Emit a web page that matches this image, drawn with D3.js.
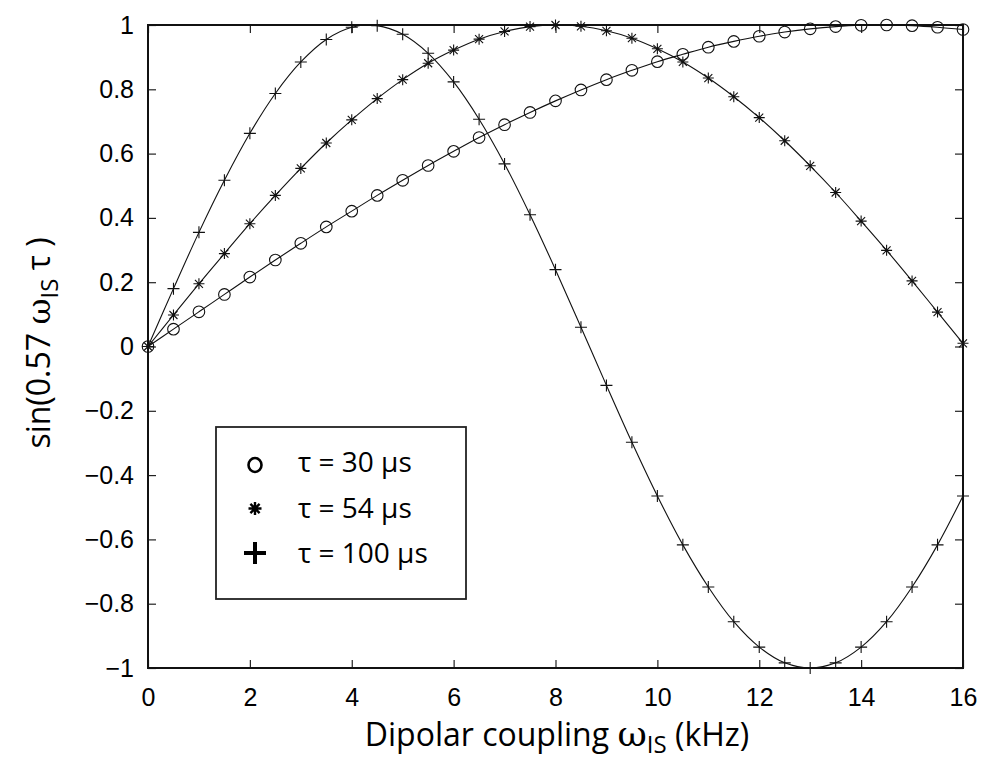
<!DOCTYPE html>
<html>
<head>
<meta charset="utf-8">
<script src="https://cdn.jsdelivr.net/npm/d3@7"></script>
<style>
  body { margin: 0; background: #fff; }
  svg { display: block; font-family: "Open Sans", "DejaVu Sans", sans-serif; }
</style>
</head>
<body>
<div id="chart"></div>
<script>
// coupling values (kHz), one marker every 0.5
const omega = d3.range(0, 16.01, 0.5)

// values
const tau30 = [0, 0.054, 0.108, 0.162, 0.216, 0.269, 0.321, 0.372, 0.421, 0.470,
  0.517, 0.563, 0.607, 0.650, 0.690, 0.728, 0.764, 0.798, 0.830, 0.859, 0.886,
  0.909, 0.931, 0.949, 0.965, 0.978, 0.988, 0.995, 0.999, 1.0, 0.998, 0.993, 0.986]
const tau54 = [0, 0.098, 0.195, 0.289, 0.382, 0.470, 0.554, 0.633, 0.705, 0.771,
  0.830, 0.881, 0.922, 0.956, 0.980, 0.995, 1.0, 0.996, 0.982, 0.959, 0.926,
  0.885, 0.835, 0.777, 0.712, 0.640, 0.562, 0.479, 0.390, 0.299, 0.204, 0.107, 0.010]
const tau100 = [0, 0.180, 0.355, 0.517, 0.663, 0.787, 0.885, 0.955, 0.993, 0.998,
  0.971, 0.912, 0.823, 0.707, 0.568, 0.410, 0.239, 0.060, -0.121, -0.298, -0.465,
  -0.617, -0.748, -0.856, -0.935, -0.984, -1.0, -0.984, -0.935, -0.856, -0.748, -0.617, -0.465]

const xTicks = [0, 2, 4, 6, 8, 10, 12, 14, 16]
const yTicks = [-1, -0.8, -0.6, -0.4, -0.2, 0, 0.2, 0.4, 0.6, 0.8, 1]

const series = [
    {name: "30", values: tau30, marker: "circle"},
    {name: "54", values: tau54, marker: "star"},
    {name: "100", values: tau100, marker: "plus"}
]

const W = 986, H = 764
const margin = {top: 25, right: 23, bottom: 96, left: 148}
const width = W - margin.left - margin.right,
      height = H - margin.top - margin.bottom

const svg = d3.select("#chart").append("svg")
    .attr("width", W)
    .attr("height", H)

const g = svg.append("g")
    .attr("transform", "translate(" + margin.left + "," + margin.top + ")")

const x = d3.scaleLinear().domain([0, 16]).range([0, width])
const y = d3.scaleLinear().domain([-1, 1]).range([height, 0])

// ticks on all four sides, pointing inward
const fmt = d => d < 0 ? "\u2212" + Math.abs(d) : String(d)
const tickLen = 8

g.append("g")
    .attr("transform", "translate(0," + height + ")")
    .call(d3.axisBottom(x).tickValues(xTicks).tickSizeInner(-tickLen).tickSizeOuter(0).tickPadding(20).tickFormat(fmt))
g.append("g")
    .call(d3.axisTop(x).tickValues(xTicks).tickSizeInner(-tickLen).tickSizeOuter(0).tickFormat(""))
g.append("g")
    .call(d3.axisLeft(y).tickValues(yTicks).tickSizeInner(-tickLen).tickSizeOuter(0).tickPadding(14).tickFormat(fmt))
g.append("g")
    .attr("transform", "translate(" + width + ",0)")
    .call(d3.axisRight(y).tickValues(yTicks).tickSizeInner(-tickLen).tickSizeOuter(0).tickFormat(""))

g.selectAll(".domain").remove()
g.selectAll(".tick line").attr("stroke", "#222").attr("stroke-width", 1.2)
g.selectAll(".tick text").attr("fill", "#000").style("font-size", "25px")

// frame
g.append("rect")
    .attr("width", width)
    .attr("height", height)
    .attr("fill", "none")
    .attr("stroke", "#111")
    .attr("stroke-width", 2)

const line = d3.line()
    .x((d, i) => x(omega[i]))
    .y(d => y(d))
    .curve(d3.curveCatmullRom)

const markerPath = {
    plus: "M-6,0H6M0,-6V6",
    star: "M-5.5,0H5.5M0,-5.5V5.5M-4,-4L4,4M-4,4L4,-4"
}

series.forEach(function(s) {
    g.append("path")
        .datum(s.values)
        .attr("fill", "none")
        .attr("stroke", "#111")
        .attr("stroke-width", 1.1)
        .attr("d", line)

    const m = g.append("g").selectAll("g")
        .data(s.values)
        .join("g")
        .attr("transform", (d, i) => "translate(" + x(omega[i]) + "," + y(d) + ")")
        .attr("stroke", "#111")
        .attr("fill", "none")
        .attr("stroke-width", 1.1)

    if (s.marker === "circle") {
        m.append("circle").attr("r", 5.8)
    } else {
        m.append("path").attr("d", markerPath[s.marker])
    }
})

// legend
const lg = g.append("g").attr("transform", "translate(" + (216 - margin.left) + "," + (427 - margin.top) + ")")
lg.append("rect")
    .attr("width", 250)
    .attr("height", 172)
    .attr("fill", "#fff")
    .attr("stroke", "#222")
    .attr("stroke-width", 1.8)

const legendSym = {
    circle: {d: null, w: 2.6},
    star: {d: "M-6.5,0H6.5M0,-6.5V6.5M-4.6,-4.6L4.6,4.6M-4.6,4.6L4.6,-4.6", w: 2.4},
    plus: {d: "M-11,0H11M0,-11V11", w: 4}
}

series.forEach(function(s, i) {
    const yy = 45 + i * 45.5
    const cy = yy - (s.marker === "circle" ? 8 : s.marker === "star" ? 9 : 10)
    const sym = legendSym[s.marker]
    if (s.marker === "circle") {
        lg.append("ellipse")
            .attr("cx", 39).attr("cy", cy + 1)
            .attr("rx", 6.5).attr("ry", 7)
            .attr("fill", "none").attr("stroke", "#000").attr("stroke-width", sym.w)
    } else {
        lg.append("path")
            .attr("transform", "translate(39," + cy + ")")
            .attr("d", sym.d)
            .attr("fill", "none").attr("stroke", "#000").attr("stroke-width", sym.w)
    }
    lg.append("text")
        .attr("x", 82)
        .attr("y", yy)
        .style("font-size", "28px")
        .attr("fill", "#000")
        .text("\u03c4 = " + s.name + " \u03bcs")
})

// axis titles
const xt = svg.append("text")
    .attr("x", 557)
    .attr("y", 746)
    .attr("text-anchor", "middle")
    .style("font-size", "32px")
    .attr("fill", "#000")
xt.append("tspan").text("Dipolar coupling ")
xt.append("tspan").style("font-family", "'DejaVu Serif', serif").style("font-size", "36px").text("\u03c9")
xt.append("tspan").attr("dy", 7).style("font-size", "24px").text("IS")
xt.append("tspan").attr("dy", -7).text(" (kHz)")

const yt = svg.append("text")
    .attr("transform", "translate(50,343) rotate(-90)")
    .attr("text-anchor", "middle")
    .style("font-size", "32px")
    .attr("fill", "#000")
yt.append("tspan").text("sin(0.57 ")
yt.append("tspan").style("font-family", "'DejaVu Serif', serif").text("\u03c9")
yt.append("tspan").attr("dy", 8).style("font-size", "24px").text("IS")
yt.append("tspan").attr("dy", -8).text(" \u03c4 )")
</script>
</body>
</html>
